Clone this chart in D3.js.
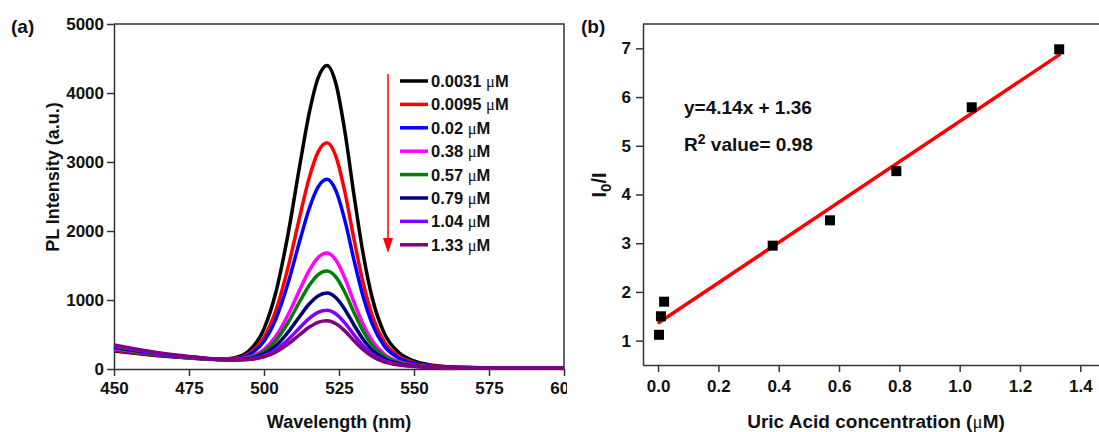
<!DOCTYPE html>
<html>
<head>
<meta charset="utf-8">
<script src="https://cdn.jsdelivr.net/npm/d3@7"></script>
<style>
  body { margin: 0; background: #fff; }
  text { font-family: "Liberation Sans", Arial, sans-serif; font-weight: bold; fill: #111; }
  .axis path, .axis line { stroke: #333; stroke-width: 1.5; }
  .axis text { font-size: 17px; font-weight: bold; fill: #111; }
</style>
</head>
<body>
<svg id="chart" width="1099" height="432"></svg>
<script>
// panel (a): PL spectra
var wavelengths = [450,460,470,480,485,490,495,500,504,508,512,515,518,521,524,527,530,533,536,540,545,550,555,560,570,580,590,600];
var concLabels = ["0.0031", "0.0095", "0.02", "0.38", "0.57", "0.79", "1.04", "1.33"];
var colors = ["#000000", "#ff0000", "#0000ff", "#ff00ff", "#008000", "#000080", "#8000ff", "#800080"];
var sBlack   = [260,215,175,145,141,161,263,582,1119,1951,2970,3694,4214,4400,4130,3431,2519,1681,1043,527,235,117,61,37,21,10,10,10];
var sRed     = [270,220,178,147,140,151,225,459,855,1470,2223,2759,3143,3280,3079,2558,1880,1257,783,399,182,93,50,31,18,10,10,10];
var sBlue    = [285,228,182,149,139,147,207,401,730,1242,1869,2316,2637,2750,2581,2146,1578,1057,660,339,156,81,45,28,17,10,10,10];
var sMagenta = [295,235,186,151,137,138,170,283,477,782,1156,1423,1614,1680,1576,1312,968,652,412,217,105,58,34,23,15,10,10,10];
var sGreen   = [305,240,190,153,137,136,161,255,416,670,982,1206,1365,1420,1332,1109,820,554,352,187,92,52,32,22,15,10,10,10];
var sNavy    = [315,248,194,155,137,134,150,219,340,532,769,938,1059,1100,1032,860,638,433,277,151,77,45,28,20,14,10,10,10];
var sViolet  = [330,258,199,157,136,132,142,192,281,425,602,730,820,850,797,665,495,339,219,122,65,39,26,19,14,10,10,10];
var sPurple  = [350,270,205,160,136,130,137,175,246,360,502,604,677,700,656,549,410,282,184,105,58,36,24,18,13,10,10,10];
var spectra = [sBlack, sRed, sBlue, sMagenta, sGreen, sNavy, sViolet, sPurple];

// panel (b): I0/I vs concentration
var conc = [0.0031, 0.0095, 0.02, 0.38, 0.57, 0.79, 1.04, 1.33];
var ratio = [1.12, 1.50, 1.80, 2.95, 3.47, 4.48, 5.79, 6.98];
var fitSlope = 4.14, fitIntercept = 1.36;

var svg = d3.select("#chart");

// ---------- panel a ----------
var ma = {left: 114, top: 24, right: 564, bottom: 369};
svg.append("defs").append("clipPath").attr("id", "clipA")
    .append("rect").attr("x", 0).attr("y", 0).attr("width", 567).attr("height", 432);

var ga = svg.append("g").attr("clip-path", "url(#clipA)");

var xa = d3.scaleLinear().domain([450, 600]).range([ma.left, ma.right]);
var ya = d3.scaleLinear().domain([0, 5000]).range([ma.bottom, ma.top]);

ga.append("g").attr("class", "axis")
    .attr("transform", "translate(0," + ma.bottom + ")")
    .call(d3.axisBottom(xa).tickValues([450, 475, 500, 525, 550, 575, 600]).tickFormat(d3.format("d"))
        .tickSize(7).tickSizeOuter(0).tickPadding(6));
ga.append("g").attr("class", "axis")
    .attr("transform", "translate(" + ma.left + ",0)")
    .call(d3.axisLeft(ya).tickValues([0, 1000, 2000, 3000, 4000, 5000]).tickFormat(d3.format("d"))
        .tickSize(7).tickSizeOuter(0).tickPadding(3));

ga.append("path")
    .attr("d", "M" + ma.left + "," + ma.top + "H" + ma.right + "V" + ma.bottom)
    .attr("fill", "none").attr("stroke", "#333").attr("stroke-width", 1.5);

var lineA = d3.line()
    .curve(d3.curveMonotoneX)
    .x(function(d, i) { return xa(wavelengths[i]); })
    .y(function(d) { return ya(d); });

spectra.forEach(function(s, k) {
    ga.append("path")
        .datum(s)
        .attr("fill", "none")
        .attr("stroke", colors[k])
        .attr("stroke-width", 3.5)
        .attr("d", lineA);
});

// legend
var legY0 = 81, legStep = 23.4;
concLabels.forEach(function(c, k) {
    var yy = legY0 + k * legStep;
    ga.append("line").attr("x1", 400).attr("x2", 428).attr("y1", yy).attr("y2", yy)
        .attr("stroke", colors[k]).attr("stroke-width", 3.5);
    var t = ga.append("text").attr("x", 431).attr("y", yy + 6).style("font-size", "16.5px");
    t.append("tspan").text(c + " ");
    t.append("tspan").style("font-weight", "normal").style("font-family", "'Liberation Serif', serif").text("\u03bc");
    t.append("tspan").text("M");
});

// red arrow
ga.append("line").attr("x1", 388).attr("x2", 388).attr("y1", 74).attr("y2", 240)
    .attr("stroke", "#ff0000").attr("stroke-width", 1.5);
ga.append("path").attr("d", "M383,238L393,238L388,253Z").attr("fill", "#ff0000");

svg.append("text").attr("x", 339).attr("y", 428).attr("text-anchor", "middle")
    .style("font-size", "18px").text("Wavelength (nm)");
svg.append("text").attr("transform", "translate(59,177) rotate(-90)").attr("text-anchor", "middle")
    .style("font-size", "18px").text("PL Intensity (a.u.)");
svg.append("text").attr("x", 11).attr("y", 33)
    .style("font-size", "19px").text("(a)");

// ---------- panel b ----------
var mb = {left: 643, top: 24, right: 1099, bottom: 365};
var xb = d3.scaleLinear().domain([-0.05, 1.462]).range([mb.left, mb.right]);
var yb = d3.scaleLinear().domain([0.5, 7.5]).range([mb.bottom, mb.top]);

svg.append("g").attr("class", "axis")
    .attr("transform", "translate(0," + mb.bottom + ")")
    .call(d3.axisBottom(xb).tickValues([0, 0.2, 0.4, 0.6, 0.8, 1.0, 1.2, 1.4]).tickFormat(d3.format(".1f"))
        .tickSize(7).tickSizeOuter(0).tickPadding(8));
svg.append("g").attr("class", "axis")
    .attr("transform", "translate(" + mb.left + ",0)")
    .call(d3.axisLeft(yb).tickValues([1, 2, 3, 4, 5, 6, 7]).tickFormat(d3.format("d"))
        .tickSize(7).tickSizeOuter(0).tickPadding(5));

svg.append("line").attr("x1", mb.left).attr("x2", mb.right).attr("y1", mb.top).attr("y2", mb.top)
    .attr("stroke", "#333").attr("stroke-width", 1.5);

var xMin = d3.min(conc), xMax = d3.max(conc);
svg.append("line")
    .attr("x1", xb(xMin)).attr("y1", yb(fitSlope * xMin + fitIntercept))
    .attr("x2", xb(xMax)).attr("y2", yb(fitSlope * xMax + fitIntercept))
    .attr("stroke", "#ff0000").attr("stroke-width", 3.5).attr("stroke-linecap", "round");

svg.append("g").selectAll("rect")
    .data(conc)
    .enter().append("rect")
    .attr("x", function(d) { return xb(d) - 5; })
    .attr("y", function(d, i) { return yb(ratio[i]) - 5; })
    .attr("width", 10).attr("height", 10)
    .attr("fill", "#000");

svg.append("text").attr("x", 684).attr("y", 114).style("font-size", "19px")
    .text("y=" + fitSlope + "x + " + fitIntercept);
var r2 = svg.append("text").attr("x", 684).attr("y", 151).style("font-size", "19px");
r2.append("tspan").text("R");
r2.append("tspan").attr("dy", -7).style("font-size", "14px").text("2");
r2.append("tspan").attr("dy", 7).text(" value= 0.98");

svg.append("text").attr("x", 876).attr("y", 428).attr("text-anchor", "middle")
    .style("font-size", "19px")
    .call(function(t) {
        t.append("tspan").text("Uric Acid concentration (");
        t.append("tspan").style("font-weight", "normal").style("font-family", "'Liberation Serif', serif").text("\u03bc");
        t.append("tspan").text("M)");
    });

var yl = svg.append("text").attr("transform", "translate(606,185) rotate(-90)").attr("text-anchor", "middle")
    .style("font-size", "20px");
yl.append("tspan").text("I");
yl.append("tspan").attr("dy", 5).style("font-size", "15px").text("0");
yl.append("tspan").attr("dy", -5).text("/I");

svg.append("text").attr("x", 581).attr("y", 33)
    .style("font-size", "19px").text("(b)");
</script>
</body>
</html>
